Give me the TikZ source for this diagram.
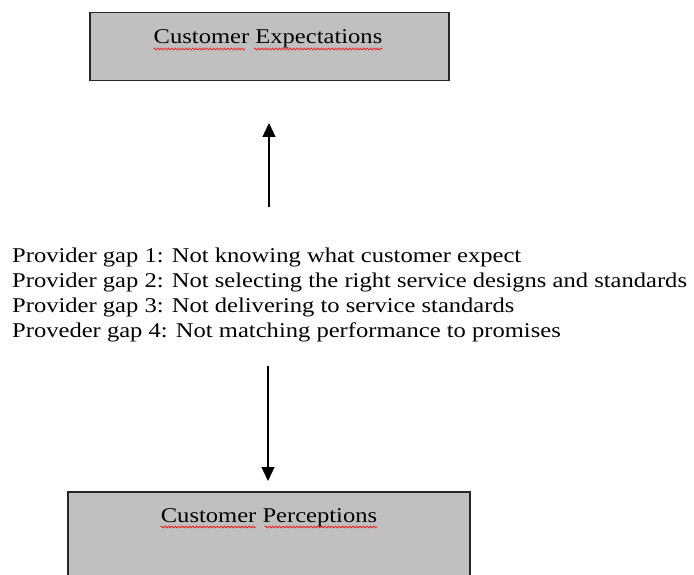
\documentclass[tikz,border=0pt]{standalone}
\usepackage{fontspec}
\setmainfont{Liberation Serif}[FakeStretch=1.17]
\usetikzlibrary{arrows.meta,decorations.pathmorphing,calc}
\tikzset{
  gapbox/.style={draw=black!85,line width=1.5pt,fill={rgb,255:red,192;green,192;blue,192}},
  lbl/.style={inner sep=0pt,font=\fontsize{21}{25}\selectfont,anchor=base},
  gaptext/.style={inner sep=0pt,font=\fontsize{21}{25}\selectfont,anchor=base west},
  arr/.style={line width=1.3pt,-{Triangle[width=13pt,length=14pt]}},
  squig/.style={red,line width=0.6pt,decorate,decoration={zigzag,segment length=3.5pt,amplitude=1pt}}
}
\begin{document}
\begin{tikzpicture}[x=1pt,y=-1pt]
\useasboundingbox (0,0) rectangle (694,575);
\clip (0,0) rectangle (694,575);
% boxes
\node[gapbox,minimum width=359pt,minimum height=68pt,anchor=north west,inner sep=0pt] (exp) at (89,12) {};
\node[gapbox,minimum width=402pt,minimum height=110pt,anchor=north west,inner sep=0pt] (per) at (67,491) {};
% labels
\node[lbl] (et) at (268,44) {Customer Expectations};
\node[lbl] (pt) at (269,522) {Customer Perceptions};
% spell-check squiggles
\draw[squig] ($(et.base west)+(0,5)$) -- ($(et.base west)!0.40!(et.base east)+(0,5)$);
\draw[squig] ($(et.base west)!0.44!(et.base east)+(0,5)$) -- ($(et.base east)+(0,5)$);
\draw[squig] ($(pt.base west)+(0,5)$) -- ($(pt.base west)!0.44!(pt.base east)+(0,5)$);
\draw[squig] ($(pt.base west)!0.48!(pt.base east)+(0,5)$) -- ($(pt.base east)+(0,5)$);
% gap text
\node[gaptext] (g1) at (12,262) {Provider gap 1: Not knowing what customer expect};
\node[gaptext] (g2) at (12,287) {Provider gap 2: Not selecting the right service designs and standards};
\node[gaptext] (g3) at (12,312) {Provider gap 3: Not delivering to service standards};
\node[gaptext] (g4) at (12,337) {Proveder gap 4: Not matching performance to promises};
% arrows
\coordinate (ua1) at (269,207);
\coordinate (ua2) at (269,123);
\coordinate (da1) at (268,366);
\coordinate (da2) at (268,481);
\draw[arr] (ua1) -- (ua2);
\draw[arr] (da1) -- (da2);
\end{tikzpicture}
\end{document}
